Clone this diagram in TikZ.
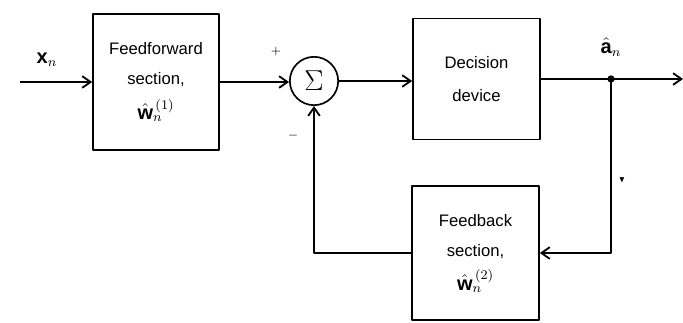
\documentclass[tikz,border=0pt]{standalone}
\usepackage{amssymb}
\usepackage{fontspec}
\setmainfont{Liberation Sans}
\usetikzlibrary{arrows.meta}
\tikzset{
  blockbox/.style={draw, line width=1pt, align=center, inner sep=0pt},
  sumnode/.style={draw, circle, line width=1pt, minimum size=29pt, inner sep=0pt},
  sig/.style={line width=1.1pt}
}
\begin{document}
\begin{tikzpicture}[x=0.6pt, y=-0.6pt, font=\normalsize, line join=round, >={Straight Barb[length=5pt,width=7pt]}]
	\useasboundingbox (0,0) rectangle (683,322);
	% blocks
	\node[blockbox, minimum width=75.6pt, minimum height=81.6pt] (ff) at (156,82) {Feedforward\\[6pt] section,\\[7pt] {\large$\hat{\mathbf{w}}_n^{\,(1)}$}};
	\node[sumnode] (sum) at (314,81) {\LARGE$\Sigma$};
	\node[blockbox, minimum width=76.2pt, minimum height=72.6pt] (dec) at (476.5,79) {Decision\\[8pt] device};
	\node[blockbox, minimum width=76.2pt, minimum height=80.4pt] (fb) at (475.5,253) {Feedback\\[6pt] section,\\[6pt] {\large$\hat{\mathbf{w}}_n^{\,(2)}$}};
	\coordinate (in) at (20,82);
	\coordinate (out) at (683,79);
	\coordinate (tap) at (611,79);
	% connectors
	\draw[sig, ->] (in) -- (ff.west);
	\draw[sig, ->] (ff.east) -- (ff.east -| sum.west);
	\draw[sig, ->] (sum.east) -- (sum.east -| dec.west);
	\draw[sig, ->] (dec.east) -- (out);
	\fill (tap) circle (2.2pt);
	\draw[sig, ->] (tap) |- (fb.east);
	\draw[sig, ->] (fb.west) -| (sum.south);
	% labels
	\node[font=\large] (xlab) at (47,60) {$\mathbf{x}_n$};
	\node[font=\large] (alab) at (611,47) {$\hat{\mathbf{a}}_n$};
	\node[font=\scriptsize] (plus) at (276,52) {$+$};
	\node[font=\scriptsize] (minus) at (293,136) {$-$};
	\node[font=\tiny] (mark) at (622,180) {$\blacktriangledown$};
\end{tikzpicture}
\end{document}
